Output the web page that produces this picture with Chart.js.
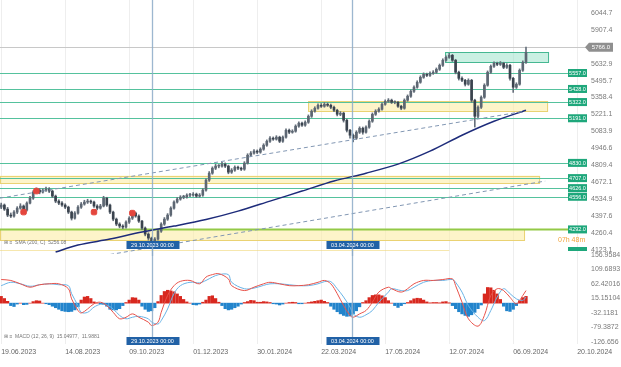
<!DOCTYPE html>
<html><head><meta charset="utf-8">
<script src="https://cdn.jsdelivr.net/npm/chart.js@4.4.1/dist/chart.umd.min.js"></script>
<style>
html,body{margin:0;padding:0;background:#fff;}
#wrap{position:relative;width:621px;height:367px;overflow:hidden;background:#fff;}
#c1{position:absolute;left:0;top:0;}
#c2{position:absolute;left:0;top:246px;}
</style></head><body>
<div id="wrap"><canvas id="c1" width="621" height="256"></canvas><canvas id="c2" width="621" height="121"></canvas></div>
<script>
// ---------- data ----------
const dateLabels = ['19.06.2023','14.08.2023','09.10.2023','01.12.2023','30.01.2024','22.03.2024','17.05.2024','12.07.2024','06.09.2024','20.10.2024'];
const dateTickIdx = [0,20,40,60,80,100,120,140,160,180];

const opens = [4472,4489,4456,4408,4400,4432,4464,4481,4448,4505,
4545,4594,4610,4594,4610,4618,4602,4561,4521,4505,
4489,4472,4432,4383,4424,4472,4497,4513,4521,4513,
4481,4464,4481,4545,4489,4432,4375,4335,4319,4311,
4351,4383,4424,4400,4359,4303,4254,4222,4189,4214,
4278,4335,4375,4408,4464,4513,4537,4553,4553,4569,
4569,4577,4561,4569,4610,4690,4747,4787,4804,4804,
4820,4804,4755,4771,4795,4787,4779,4828,4892,4909,
4925,4917,4941,4973,5005,5030,5022,5038,5005,5038,
5094,5078,5086,5127,5151,5135,5159,5207,5248,5272,
5296,5288,5304,5296,5280,5256,5223,5232,5175,5094,
5054,5030,5078,5110,5078,5119,5167,5223,5248,5264,
5304,5328,5337,5320,5320,5288,5272,5337,5369,5409,
5442,5482,5522,5546,5538,5555,5563,5587,5619,5660,
5684,5700,5660,5563,5514,5498,5466,5498,5337,5207,
5280,5361,5458,5563,5611,5635,5627,5635,5603,5619,
5514,5442,5466,5579,5643];
const closes = [4489,4456,4408,4400,4432,4464,4481,4448,4505,4545,
4594,4610,4594,4610,4618,4602,4561,4521,4505,4489,
4472,4432,4383,4424,4472,4497,4513,4521,4513,4481,
4464,4481,4545,4489,4432,4375,4335,4319,4311,4351,
4383,4424,4400,4359,4303,4254,4222,4189,4214,4278,
4335,4375,4408,4464,4513,4537,4553,4553,4569,4569,
4577,4561,4569,4610,4690,4747,4787,4804,4804,4820,
4804,4755,4771,4795,4787,4779,4828,4892,4909,4925,
4917,4941,4973,5005,5030,5022,5038,5005,5038,5094,
5078,5086,5127,5151,5135,5159,5207,5248,5272,5296,
5288,5304,5296,5280,5256,5223,5232,5175,5094,5054,
5030,5078,5110,5078,5119,5167,5223,5248,5264,5304,
5328,5337,5320,5320,5288,5272,5337,5369,5409,5442,
5482,5522,5546,5538,5555,5563,5587,5619,5660,5684,
5700,5660,5563,5514,5498,5466,5498,5337,5207,5280,
5361,5458,5563,5611,5635,5627,5635,5603,5619,5514,
5442,5466,5579,5643,5724];
const highs = [4505,4498,4470,4425,4445,4476,4500,4490,4515,4560,
4605,4628,4622,4620,4635,4630,4610,4570,4532,4518,
4500,4480,4440,4436,4484,4510,4528,4536,4530,4522,
4492,4495,4560,4552,4496,4440,4384,4346,4330,4362,
4395,4436,4432,4410,4366,4312,4265,4230,4226,4290,
4346,4388,4420,4475,4524,4550,4565,4568,4580,4584,
4590,4586,4582,4622,4702,4760,4798,4818,4816,4834,
4830,4812,4784,4806,4804,4796,4840,4904,4922,4938,
4935,4952,4985,5016,5042,5040,5050,5046,5048,5105,
5104,5098,5138,5162,5160,5170,5218,5260,5284,5308,
5310,5318,5315,5306,5290,5264,5245,5240,5184,5102,
5064,5090,5122,5120,5130,5178,5234,5260,5276,5316,
5340,5350,5346,5332,5328,5296,5348,5380,5420,5454,
5494,5534,5558,5556,5566,5576,5598,5630,5672,5696,
5716,5708,5668,5572,5526,5506,5510,5506,5345,5292,
5372,5470,5574,5622,5648,5645,5650,5644,5632,5628,
5522,5478,5590,5655,5766];
const lows = [4460,4445,4395,4388,4392,4420,4455,4430,4440,4498,
4535,4585,4580,4586,4600,4590,4550,4508,4492,4478,
4460,4420,4368,4375,4415,4462,4488,4502,4500,4470,
4450,4456,4474,4478,4420,4362,4322,4305,4298,4302,
4340,4372,4390,4348,4290,4240,4205,4150,4160,4205,
4268,4325,4365,4398,4455,4505,4528,4540,4545,4556,
4560,4550,4552,4560,4602,4680,4738,4776,4790,4795,
4792,4742,4745,4762,4776,4768,4770,4820,4882,4900,
4905,4908,4932,4964,4996,5012,5014,4994,4996,5030,
5066,5070,5078,5118,5124,5126,5150,5198,5240,5264,
5278,5280,5286,5268,5244,5210,5212,5160,5080,5030,
5000,5020,5068,5062,5070,5110,5158,5214,5240,5256,
5296,5320,5310,5308,5278,5260,5264,5328,5360,5400,
5434,5474,5514,5528,5530,5546,5554,5578,5610,5652,
5676,5650,5550,5500,5486,5452,5458,5320,5120,5196,
5270,5352,5450,5554,5602,5616,5618,5592,5594,5500,
5400,5432,5458,5570,5635];

const smaIdx = [17,24,34,44,54,64,74,84,94,104,114,124,134,144,154,164];
const smaVals = [4109,4166,4214,4271,4319,4372,4440,4521,4602,4683,4747,4820,4925,5054,5167,5256];
const trendUpIdx = [-0.375,163.7];
const trendUpVals = [4545,5248];
const trendLowIdx = [34,170];
const trendLowVals = [4089,4683];
const markerIdx = [7,11,29,41];
const markerVals = [4432,4602,4432,4424];

const hLevels = [5557,5428,5322,5191,4830,4707,4626,4556,4292];
const lastPrice = 5766.0;
const zoneFrom = [138.7,95.9,-0.375,-0.375];
const zoneTo = [171.2,170.9,168.4,163.7];
const zoneHigh = [5725,5330,4727,4292];
const zoneLow = [5645,5250,4667,4205];
const zoneKind = ['green','yellow','yellow','yellow'];

const crossIdx = [47.1,109.6];
const crossLabels = ['29.10.2023 00:00','03.04.2024 00:00'];

const priceTicks = [6044.7,5907.4,5770.1,5632.9,5495.7,5358.4,5221.1,5083.9,4946.6,4809.4,4672.1,4534.9,4397.6,4260.4,4123.1];
const macdTicks = [156.9584,109.6893,62.42016,15.15104,-32.1181,-79.3872,-126.656];
const macdTickText = ['156.9584','109.6893','62.42016','15.15104','-32.1181','-79.3872','-126.656'];

const histVals = [22,15,6,-8,-11,-3,0,-5,-4,0,
5,8,7,0,-2,-5,-10,-15,-20,-25,
-27,-28,-27,-22,-12,10,20,22,15,4,
0,-2,-4,-10,-20,-22,-22,-18,-8,2,
10,18,17,10,-10,-20,-27,-25,-15,5,
25,38,42,40,37,30,22,12,4,0,
-5,-6,-3,3,10,22,24,15,3,-8,
-18,-22,-20,-15,-10,-3,2,5,9,8,
3,3,5,4,2,-2,-3,-6,-3,0,
2,3,2,-2,-2,0,2,4,6,8,
10,6,2,-10,-20,-28,-35,-40,-43,-42,
-35,-25,-12,2,8,18,25,27,27,24,
18,8,0,-8,-14,-8,-2,2,8,14,
16,15,10,4,1,2,2,1,4,5,
1,-8,-18,-28,-35,-40,-43,-38,-30,-18,
-6,30,51,50,42,30,12,-10,-25,-27,
-20,-8,8,18,22];
const macdIdx = [0,3,6,9,12,15,18,21,22,24,25,27,29,31,33,35,37,39,41,43,46,47,49,50,52,54,56,59,62,64,66,68,71,72,76,79,82,84,87,90,93,96,99,101,103,105,107,109,110,112,114,116,118,121,122,125,127,129,132,135,138,141,142,144,146,149,151,153,155,157,159,161,163,164];
const macdVals = [77,74,63,52,60,63,63,47,14,-24,-32,-19,-2,3,-8,-30,-51,-46,-35,-46,-62,-73,-62,-30,25,57,71,74,63,85,93,96,79,57,41,52,63,68,63,57,57,60,68,74,63,31,-8,-40,-46,-35,-24,3,36,52,47,36,47,63,74,74,77,79,57,3,-51,-75,-40,25,47,41,19,-2,25,41];
const signalVals = [57,68,63,55,60,63,60,57,31,-8,-30,-30,-13,-4,-6,-19,-40,-51,-46,-43,-51,-62,-68,-57,-19,31,57,68,66,74,85,93,93,68,47,49,58,63,63,60,57,57,63,70,70,47,20,-13,-35,-46,-38,-24,3,36,47,41,41,52,68,74,74,77,68,36,-8,-46,-57,-24,20,47,31,14,9,20];

// ---------- helpers ----------
const FONT = '"Liberation Sans", Arial, sans-serif';
Chart.defaults.font.family = FONT;
Chart.defaults.animation = false;
const XMIN = -0.375, XMAX = 183.375;
const idx = closes.map((_, k) => k);

function xScaleCfg(showTicks){
  return {
    type:'linear', min:XMIN, max:XMAX, offset:false,
    grid:{display:true, color:'#eeeeee', drawTicks:false, offset:false},
    border:{display:false},
    afterBuildTicks:s=>{ s.ticks = dateTickIdx.map(v=>({value:v})); },
    afterFit:s=>{ s.height = showTicks ? 23 : 0; s.paddingLeft=0; s.paddingRight=0; },
    ticks:{display:showTicks, autoSkip:false, maxRotation:0, align:'start', padding:4,
      font:{size:7}, color:'#666',
      callback:v=>dateLabels[dateTickIdx.indexOf(v)] || ''}
  };
}
function yScaleCfg(min,max,ticks,texts){
  return {
    type:'linear', position:'right', min:min, max:max,
    grid:{display:false, drawTicks:false}, border:{display:false},
    afterBuildTicks:s=>{ s.ticks = ticks.map(v=>({value:v})); },
    afterFit:s=>{ s.width = 33; s.paddingTop=0; s.paddingBottom=0; },
    ticks:{autoSkip:false, padding:3, font:{size:7}, color:'#7a7a7a',
      callback:v=>texts[ticks.indexOf(v)]}
  };
}
function drawCross(chart, yTop, yBot, boxY){
  const {ctx, scales:{x}} = chart;
  ctx.save();
  crossIdx.forEach((v,n)=>{
    const px = Math.round(x.getPixelForValue(v))+0.5;
    ctx.strokeStyle='rgba(140,170,200,0.85)'; ctx.lineWidth=1.3;
    ctx.beginPath(); ctx.moveTo(px,yTop); ctx.lineTo(px,yBot); ctx.stroke();
    ctx.fillStyle='#2161a6';
    ctx.fillRect(px-26, boxY-4, 53, 8);
    ctx.fillStyle='#fff'; ctx.font='5.5px '+FONT; ctx.textAlign='center'; ctx.textBaseline='middle';
    ctx.fillText(crossLabels[n], px, boxY+0.5);
  });
  ctx.restore();
}

// ---------- price chart ----------
const pricePlugin = {
  id:'pricePlugin',
  beforeDatasetsDraw(chart){
    const {ctx, chartArea:a, scales:{x,y}} = chart;
    ctx.save();
    ctx.beginPath(); ctx.rect(a.left,a.top,a.right-a.left,a.bottom-a.top); ctx.clip();
    zoneKind.forEach((k,n)=>{
      const x1 = x.getPixelForValue(zoneFrom[n]), x2 = x.getPixelForValue(zoneTo[n]);
      const y1 = y.getPixelForValue(zoneHigh[n]), y2 = y.getPixelForValue(zoneLow[n]);
      ctx.fillStyle = k==='green' ? 'rgba(150,226,200,0.5)' : 'rgba(252,236,165,0.6)';
      ctx.fillRect(x1,y1,x2-x1,y2-y1);
      ctx.strokeStyle = k==='green' ? '#45b892' : '#ead273';
      ctx.lineWidth = 1;
      ctx.strokeRect(x1+0.5,Math.round(y1)+0.5,x2-x1-1,Math.round(y2-y1));
    });
    ctx.strokeStyle='rgba(240,215,120,0.6)'; ctx.lineWidth=1;
    const yb = Math.round(y.getPixelForValue(4123))+0.5;
    ctx.beginPath(); ctx.moveTo(a.left,yb); ctx.lineTo(x.getPixelForValue(140),yb); ctx.stroke();
    hLevels.forEach((p,n)=>{
      const py = Math.round(y.getPixelForValue(p))+0.5;
      const last = n===hLevels.length-1;
      ctx.strokeStyle = last ? '#93c947' : '#55c29d';
      ctx.lineWidth = last ? 2 : 1;
      ctx.beginPath(); ctx.moveTo(a.left,py); ctx.lineTo(a.right-20,py); ctx.stroke();
    });
    const gy = Math.round(y.getPixelForValue(lastPrice))+0.5;
    ctx.strokeStyle='#c8c8c8'; ctx.lineWidth=1;
    ctx.beginPath(); ctx.moveTo(a.left,gy); ctx.lineTo(a.right,gy); ctx.stroke();
    ctx.restore();
  },
  afterDatasetsDraw(chart){
    const {ctx, chartArea:a, scales:{x,y}} = chart;
    drawCross(chart, 0, a.bottom+2, 245);
    ctx.save();
    hLevels.forEach(p=>{
      const py = y.getPixelForValue(p);
      ctx.fillStyle='#1ea77b';
      ctx.fillRect(a.right-20, py-4, 19, 8);
      ctx.fillStyle='#fff'; ctx.font='5.5px '+FONT; ctx.textAlign='center'; ctx.textBaseline='middle';
      ctx.fillText(p.toFixed(1), a.right-10.5, py+0.5);
    });
    const gy = y.getPixelForValue(lastPrice);
    ctx.fillStyle='#8f8f8f';
    ctx.beginPath();
    ctx.moveTo(a.right-3, gy); ctx.lineTo(a.right+1, gy-4.5); ctx.lineTo(a.right+25, gy-4.5);
    ctx.lineTo(a.right+25, gy+4.5); ctx.lineTo(a.right+1, gy+4.5); ctx.closePath(); ctx.fill();
    ctx.fillStyle='#fff'; ctx.font='6px '+FONT; ctx.textAlign='center'; ctx.textBaseline='middle';
    ctx.fillText(lastPrice.toFixed(1), a.right+13, gy+0.5);
    ctx.fillStyle='#1ea77b';
    ctx.fillRect(a.right-20, a.bottom-7, 19, 4);
    ctx.fillStyle='#f2a33a'; ctx.font='7px '+FONT; ctx.textAlign='left';
    ctx.fillText('07h 48m', a.right-30, a.bottom-14);
    ctx.fillStyle='#777'; ctx.font='5px '+FONT; ctx.textAlign='left';
    ctx.fillText('\u229E \u2261  SMA (200, C)  5256.08', 4, a.bottom-11);
    ctx.restore();
  }
};

new Chart(document.getElementById('c1'), {
  type:'bar',
  data:{datasets:[
    {type:'bar', data:idx.map(k=>({x:k,y:[lows[k],highs[k]]})), backgroundColor:'#66707c', barThickness:1, grouped:false, order:6},
    {type:'bar', data:idx.map(k=>({x:k,y:[opens[k],closes[k]]})), backgroundColor:idx.map(k=>closes[k]>=opens[k]?'#5d6773':'#3a434e'), barThickness:2, minBarLength:1, grouped:false, order:5},
    {type:'line', data:smaIdx.map((k,n)=>({x:k,y:smaVals[n]})), borderColor:'#1d2b7a', borderWidth:1.5, pointRadius:0, tension:0.3, order:3},
    {type:'line', data:trendUpIdx.map((k,n)=>({x:k,y:trendUpVals[n]})), borderColor:'#8297b3', borderWidth:1, borderDash:[4,3], pointRadius:0, order:2},
    {type:'line', data:trendLowIdx.map((k,n)=>({x:k,y:trendLowVals[n]})), borderColor:'#8297b3', borderWidth:1, borderDash:[4,3], pointRadius:0, order:2},
    {type:'line', data:markerIdx.map((k,n)=>({x:k,y:markerVals[n]})), showLine:false, pointStyle:'rectRounded', pointRadius:3.2, backgroundColor:'#e4463d', borderColor:'#e4463d', order:1}
  ]},
  options:{
    responsive:false, devicePixelRatio:1, animation:false,
    layout:{autoPadding:false, padding:{left:0,right:0,top:0,bottom:2}},
    plugins:{legend:{display:false}, tooltip:{enabled:false}},
    scales:{ x:xScaleCfg(false), y:yScaleCfg(4093.2,6147.4,priceTicks,priceTicks.map(v=>v.toFixed(1))) }
  },
  plugins:[pricePlugin]
});

// ---------- MACD chart ----------
const macdPlugin = {
  id:'macdPlugin',
  afterDatasetsDraw(chart){
    const {ctx, chartArea:a} = chart;
    drawCross(chart, 0, a.bottom, a.bottom-3);
    ctx.save();
    ctx.fillStyle='#777'; ctx.font='5px '+FONT; ctx.textAlign='left'; ctx.textBaseline='middle';
    ctx.fillText('\u229E \u2261  MACD (12, 26, 9)  15.04977,  11.9881', 4, a.bottom-7);
    ctx.restore();
  }
};
new Chart(document.getElementById('c2'), {
  type:'bar',
  data:{datasets:[
    {type:'bar', data:idx.map(k=>({x:k,y:histVals[k]})), backgroundColor:histVals.map(v=>v>=0?'#d8281f':'#2284cc'), barThickness:2.6, grouped:false, order:3},
    {type:'line', data:macdIdx.map((k,n)=>({x:k,y:signalVals[n]})), borderColor:'#69b3e6', borderWidth:1, pointRadius:0, tension:0.35, order:2},
    {type:'line', data:macdIdx.map((k,n)=>({x:k,y:macdVals[n]})), borderColor:'#e8524a', borderWidth:1, pointRadius:0, tension:0.35, order:1}
  ]},
  options:{
    responsive:false, devicePixelRatio:1, animation:false,
    layout:{autoPadding:false, padding:{left:0,right:0,top:8,bottom:0}},
    plugins:{legend:{display:false}, tooltip:{enabled:false}},
    scales:{ x:xScaleCfg(true), y:yScaleCfg(-133.2,160.2,macdTicks,macdTickText) }
  },
  plugins:[macdPlugin]
});
</script>
</body></html>
